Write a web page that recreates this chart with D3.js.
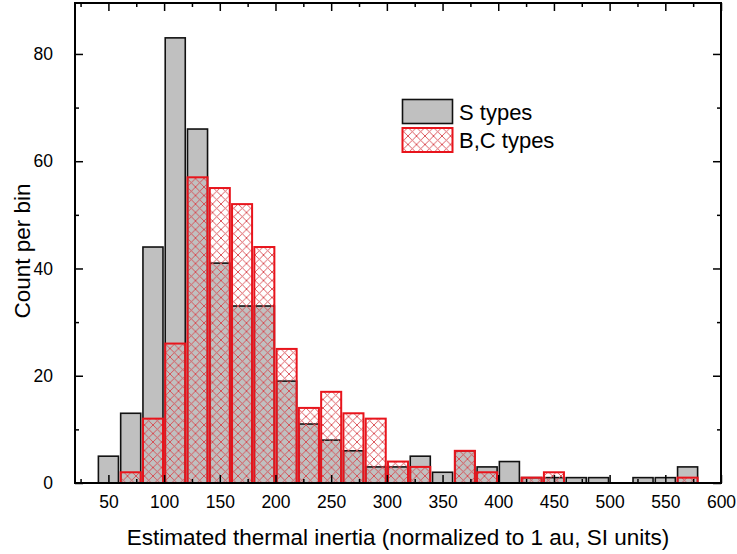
<!DOCTYPE html>
<html><head><meta charset="utf-8">
<script src="https://cdn.jsdelivr.net/npm/d3@7"></script>
<style>body{margin:0;background:#fff;} svg{display:block;font-family:"Liberation Sans",Arial,sans-serif;}</style>
</head><body><svg id="c" width="737" height="554"></svg>
<script>
const binCenters = [50,70,90,110,130,150,170,190,210,230,250,270,290,310,330,350,370,390,410,430,450,470,490,510,530,550,570];
const sTypes   = [5,13,44,83,66,41,33,33,19,11,8,6,3,3,5,2,6,3,4,1,1,1,1,0,1,1,3];
const bcTypes  = [0,2,12,26,57,55,52,44,25,14,17,13,12,4,3,0,6,2,0,1,2,0,0,0,0,0,1];
const xMajor = [50,100,150,200,250,300,350,400,450,500,550,600];
const xMinor = [25,75,125,175,225,275,325,375,425,475,525,575];
const yMajor = [0,20,40,60,80];
const yMinor = [10,30,50,70];
const binWidth = 20, barFrac = 0.9;

const svg = d3.select("#c");
const L=75,R=721,T=3,B=483;
const x = d3.scaleLinear().domain([20,600]).range([L,R]);
const y = d3.scaleLinear().domain([0,89.5]).range([B,T]);

const defs = svg.append("defs");
const pat = defs.append("pattern").attr("id","hatch").attr("patternUnits","userSpaceOnUse")
  .attr("width",8.5).attr("height",8.5);
pat.append("path").attr("d","M0,0L8.5,8.5M8.5,0L0,8.5M-1,1L1,-1M7.5,9.5L9.5,7.5M-1,7.5L1,9.5M7.5,-1L9.5,1")
  .attr("stroke","#d8474d").attr("stroke-width",0.9).attr("fill","none");

const bw = x(binWidth*barFrac) - x(0);
const g = svg.append("g");
g.selectAll("rect.s").data(binCenters.map((c,i)=>({c,v:sTypes[i]})).filter(d=>d.v>0))
  .enter().append("rect").attr("class","s")
  .attr("x",d=>x(d.c)-bw/2).attr("width",bw)
  .attr("y",d=>y(d.v)).attr("height",d=>y(0)-y(d.v))
  .attr("fill","#c0c0c0").attr("stroke","#111").attr("stroke-width",1.6);
g.selectAll("rect.bc").data(binCenters.map((c,i)=>({c,v:bcTypes[i]})).filter(d=>d.v>0))
  .enter().append("rect").attr("class","bc")
  .attr("x",d=>x(d.c)-bw/2).attr("width",bw)
  .attr("y",d=>y(d.v)).attr("height",d=>y(0)-y(d.v))
  .attr("fill","url(#hatch)").attr("stroke","#e8141c").attr("stroke-width",2);

function addAxis(axis, tr){
  const a = svg.append("g").attr("transform",tr).call(axis);
  a.select(".domain").remove();
  a.selectAll("line").attr("stroke","#000").attr("stroke-width",1.5);
  a.selectAll("text").attr("fill","#000").style("font-size","17.5px");
  return a;
}
addAxis(d3.axisBottom(x).tickValues(xMajor).tickSize(-8).tickPadding(13).tickFormat(d3.format("d")),`translate(0,${B})`);
addAxis(d3.axisBottom(x).tickValues(xMinor).tickSize(-4).tickFormat(""),`translate(0,${B})`);
addAxis(d3.axisTop(x).tickValues(xMajor).tickSize(-8).tickFormat(""),`translate(0,${T})`);
addAxis(d3.axisTop(x).tickValues(xMinor).tickSize(-4).tickFormat(""),`translate(0,${T})`);
addAxis(d3.axisLeft(y).tickValues(yMajor).tickSize(-8).tickPadding(22).tickFormat(d3.format("d")),`translate(${L},0)`);
addAxis(d3.axisLeft(y).tickValues(yMinor).tickSize(-4).tickFormat(""),`translate(${L},0)`);
addAxis(d3.axisRight(y).tickValues(yMajor).tickSize(-8).tickFormat(""),`translate(${R},0)`);
addAxis(d3.axisRight(y).tickValues(yMinor).tickSize(-4).tickFormat(""),`translate(${R},0)`);

svg.append("rect").attr("x",L).attr("y",T).attr("width",R-L).attr("height",B-T)
  .attr("fill","none").attr("stroke","#000").attr("stroke-width",2);

svg.append("text").attr("x",398).attr("y",545).attr("text-anchor","middle")
  .style("font-size","22.5px").attr("fill","#000")
  .text("Estimated thermal inertia (normalized to 1 au, SI units)");
svg.append("text").attr("transform",`translate(30,251) rotate(-90)`).attr("text-anchor","middle")
  .style("font-size","22.5px").attr("fill","#000").text("Count per bin");

const leg = svg.append("g");
const legItems = [{label:"S types", fill:"#c0c0c0", stroke:"#111", sw:1.6},
                  {label:"B,C types", fill:"url(#hatch)", stroke:"#e8141c", sw:2}];
legItems.forEach((d,i)=>{
  leg.append("rect").attr("x",402.5).attr("y",99.5+i*28.5).attr("width",50).attr("height",24)
    .attr("fill",d.fill).attr("stroke",d.stroke).attr("stroke-width",d.sw);
  leg.append("text").attr("x",459).attr("y",120+i*27.5).style("font-size","22px").attr("fill","#000").text(d.label);
});
</script></body></html>
